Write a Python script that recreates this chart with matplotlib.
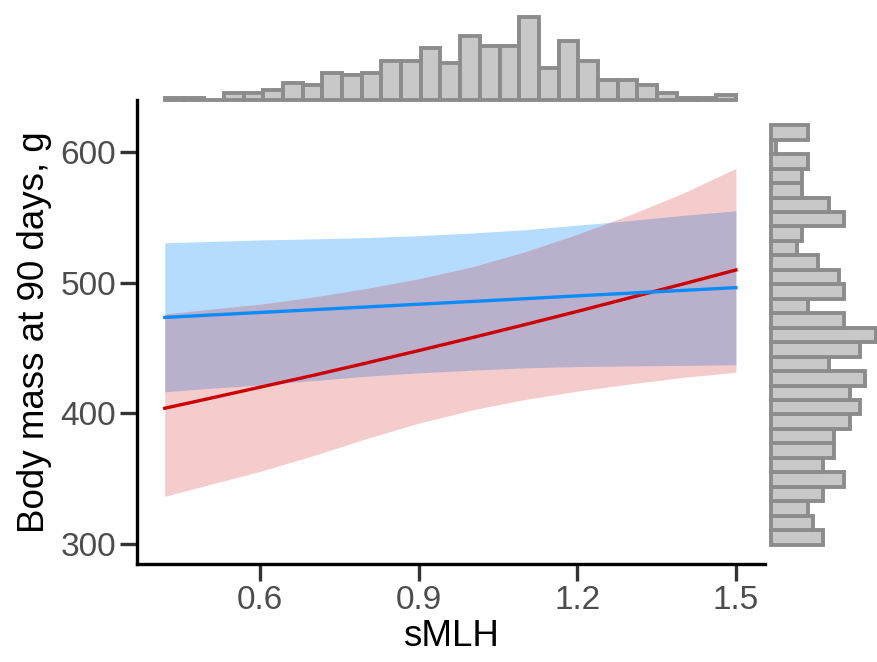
import numpy as np
import matplotlib.pyplot as plt

plt.rcParams['font.family'] = ['Liberation Sans', 'DejaVu Sans']

# fitted curves (sMLH vs body mass)
smlh = [0.42, 0.5, 0.6, 0.7, 0.8, 0.9, 1.0, 1.1, 1.2, 1.3, 1.4, 1.5]
blue_fit = [473.4, 475.1, 477.2, 479.3, 481.4, 483.5, 485.6, 487.7, 489.9, 492.0, 494.1, 496.2]
blue_hi = [530.5, 531.5, 532.7, 533.5, 534.5, 536.0, 538.0, 540.5, 544.0, 547.5, 551.5, 555.0]
blue_lo = [416.5, 419.0, 421.7, 425.0, 428.4, 431.0, 433.0, 434.8, 435.8, 436.3, 436.7, 437.2]
red_fit = [403.9, 411.0, 420.0, 429.0, 438.4, 448.0, 457.8, 467.8, 478.0, 488.5, 499.0, 509.7]
red_hi = [476.0, 479.5, 483.5, 489.0, 495.5, 503.0, 512.0, 523.5, 537.0, 552.0, 568.5, 587.5]
red_lo = [336.5, 345.0, 355.5, 367.5, 380.5, 392.5, 402.5, 410.5, 417.0, 422.5, 427.5, 431.4]

# marginal histograms (counts per bin)
smlh_range = (0.42, 1.50)
smlh_counts = [1, 1, 0, 3, 3, 4, 7, 6, 11, 10, 11, 16, 16, 21, 15, 26, 22, 22, 34, 13,
               24, 16, 8, 8, 6, 3, 1, 1, 2]
mass_range = (299.5, 620.5)
# listed from lowest mass bin to highest
mass_counts = [10, 8, 7, 10, 14, 10, 12, 12, 15, 17, 15, 18, 11, 17, 20, 14, 7, 14, 13, 9,
               5, 6, 14, 11, 6, 6, 7, 1, 7]

W, H = 878, 662
fig = plt.figure(figsize=(W / 100, H / 100), dpi=100)

def rect(x0, y0, x1, y1):
    # pixel box -> figure fraction
    return [x0 / W, 1 - y1 / H, (x1 - x0) / W, (y1 - y0) / H]

ax = fig.add_axes(rect(137, 100, 765, 564))
ax_top = fig.add_axes(rect(137, 4, 765, 100), sharex=ax)
ax_right = fig.add_axes(rect(771, 100, 878, 564), sharey=ax)

ax.fill_between(smlh, blue_lo, blue_hi, color='#0A8CFF', alpha=0.3, lw=0)
ax.fill_between(smlh, red_lo, red_hi, color='#CC0000', alpha=0.2, lw=0)
ax.plot(smlh, red_fit, color='#CC0000', lw=2.4)
ax.plot(smlh, blue_fit, color='#0A8CFF', lw=2.4)

ax.set_xlim(0.3675, 1.555)
ax.set_ylim(284.7, 639.8)
ax.set_xticks([0.6, 0.9, 1.2, 1.5])
ax.set_xticklabels(['0.6', '0.9', '1.2', '1.5'])
ax.set_yticks([300, 400, 500, 600])
for s in ['top', 'right']:
    ax.spines[s].set_visible(False)
for s in ['left', 'bottom']:
    ax.spines[s].set_linewidth(2.4)
    ax.spines[s].set_color('black')
ax.tick_params(length=12, width=2.4, color='#333333', labelcolor='#4D4D4D',
               labelsize=24, pad=3)
ax.set_xlabel('sMLH', fontsize=26.5, labelpad=2)
ax.set_ylabel('Body mass at 90 days, g', fontsize=26.5, labelpad=6)

hist_face = '#C8C8C8'
hist_edge = '#8C8C8C'

nb = len(smlh_counts)
bw = (smlh_range[1] - smlh_range[0]) / nb
left_edges = smlh_range[0] + bw * np.arange(nb)
ax_top.bar(left_edges, smlh_counts, width=bw, align='edge', color=hist_face,
           edgecolor=hist_edge, lw=2.8, clip_on=False)
ax_top.set_ylim(0, 34 * 96 / 83.5)
ax_top.axis('off')

nm = len(mass_counts)
bh = (mass_range[1] - mass_range[0]) / nm
low_edges = mass_range[0] + bh * np.arange(nm)
ax_right.barh(low_edges, mass_counts, height=bh, align='edge', color=hist_face,
              edgecolor=hist_edge, lw=2.8, clip_on=False)
ax_right.set_xlim(0, 20 * 107 / 105)
ax_right.axis('off')

fig.savefig('out.png', dpi=100)
